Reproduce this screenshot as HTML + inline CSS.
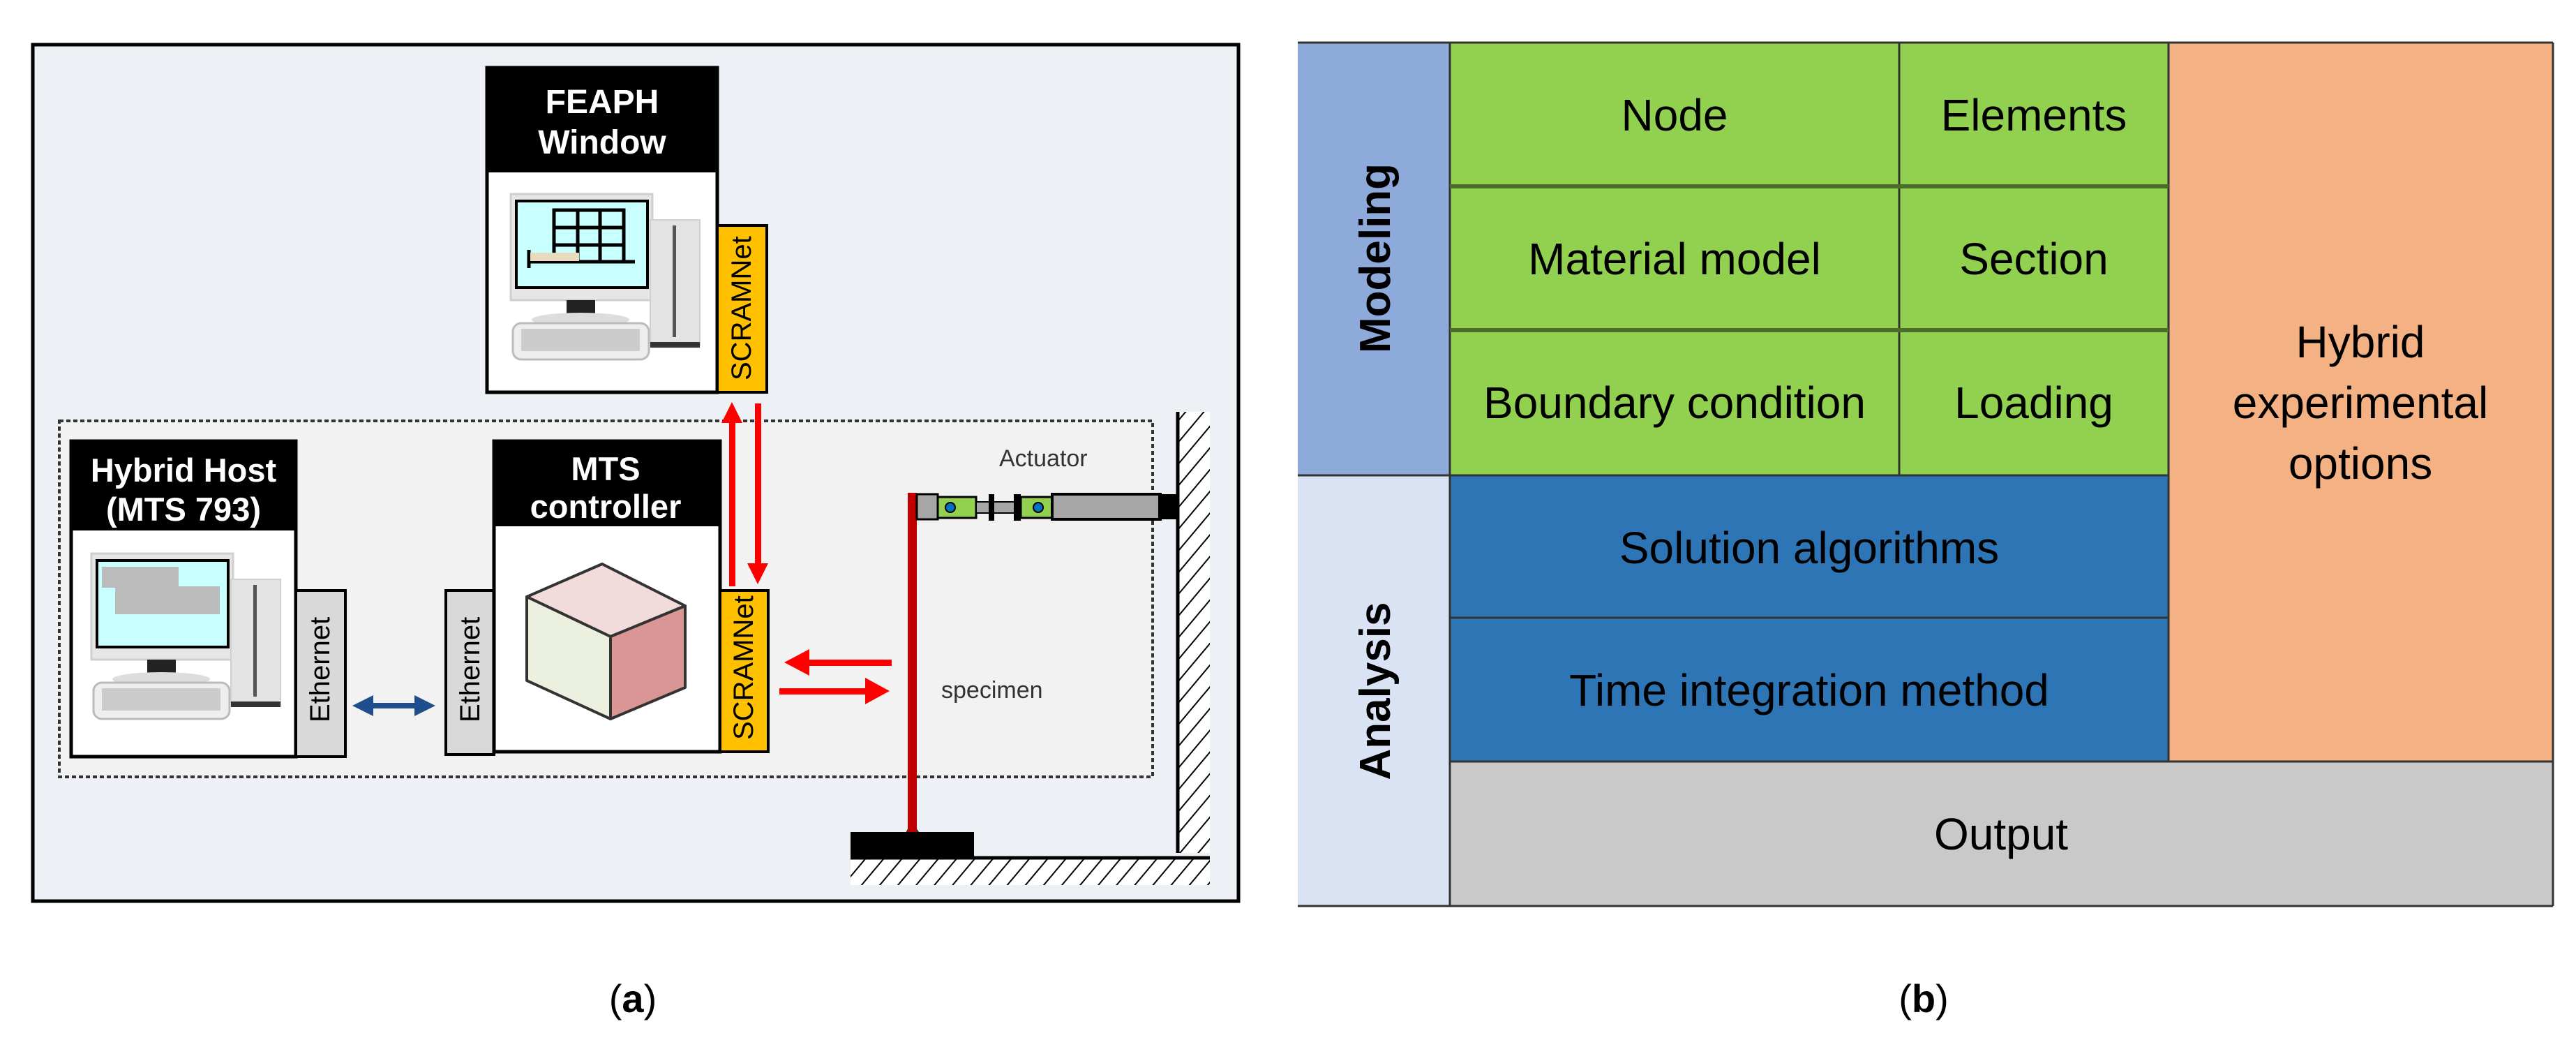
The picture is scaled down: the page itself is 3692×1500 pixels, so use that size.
<!DOCTYPE html>
<html><head><meta charset="utf-8"><style>
html,body{margin:0;padding:0;background:#fff;}
svg{display:block;}
text{font-family:"Liberation Sans",sans-serif;}
</style></head><body>
<svg width="3692" height="1500" viewBox="0 0 3692 1500" xmlns="http://www.w3.org/2000/svg">
<defs>
<pattern id="hatch" width="20" height="20" patternUnits="userSpaceOnUse" patternTransform="rotate(40)">
<rect width="20" height="20" fill="#fff"/><line x1="0" y1="0" x2="0" y2="20" stroke="#000" stroke-width="4"/>
</pattern>
<g id="pc">
<rect x="0" y="0" width="203" height="152" fill="#e6e6e6" stroke="#cfcfcf" stroke-width="3"/>
<rect x="8" y="10" width="188" height="124" fill="#c8ffff" stroke="#000" stroke-width="4"/>
<rect x="80" y="152" width="41" height="25" fill="#222"/>
<ellipse cx="100" cy="180" rx="70" ry="10" fill="#ddd"/>
<rect x="3" y="185" width="195" height="52" rx="12" fill="#eee" stroke="#bbb" stroke-width="3"/>
<rect x="15" y="193" width="170" height="32" fill="#ccc"/>
<rect x="200" y="37" width="71" height="180" fill="#e3e3e3" stroke="#d0d0d0" stroke-width="2"/>
<rect x="232" y="45" width="5" height="160" fill="#555"/>
<rect x="200" y="212" width="71" height="8" fill="#333"/>
</g>
</defs>

<!-- panel a -->
<rect x="47" y="64" width="1728" height="1227" fill="#edf0f5" stroke="#000" stroke-width="5"/>
<rect x="85" y="603" width="1567" height="510" fill="#f2f2f2" stroke="#333" stroke-width="4" stroke-dasharray="6,4"/>

<!-- FEAPH -->
<rect x="698" y="97" width="330" height="465" fill="#fff" stroke="#000" stroke-width="5"/>
<rect x="698" y="97" width="330" height="150" fill="#000"/>
<text x="863" y="162" font-size="48" font-weight="bold" fill="#fff" text-anchor="middle">FEAPH</text>
<text x="863" y="220" font-size="48" font-weight="bold" fill="#fff" text-anchor="middle">Window</text>
<use href="#pc" x="732" y="278"/>
<g stroke="#000" stroke-width="5" fill="none">
<rect x="794" y="301" width="100" height="74"/>
<line x1="828" y1="301" x2="828" y2="375"/><line x1="860" y1="301" x2="860" y2="375"/>
<line x1="794" y1="326" x2="894" y2="326"/><line x1="794" y1="351" x2="894" y2="351"/>
<line x1="756" y1="375" x2="910" y2="375"/><line x1="758" y1="358" x2="758" y2="384"/>
</g>
<rect x="760" y="362" width="70" height="12" fill="#e8dcc0"/>
<rect x="1028" y="323" width="71" height="239" fill="#ffc000" stroke="#000" stroke-width="4"/>
<text transform="translate(1076,545) rotate(-90)" font-size="40" fill="#000">SCRAMNet</text>

<!-- Hybrid host -->
<rect x="102" y="632" width="322" height="452" fill="#fff" stroke="#000" stroke-width="5"/>
<rect x="102" y="632" width="322" height="128" fill="#000"/>
<text x="263" y="690" font-size="47" font-weight="bold" fill="#fff" text-anchor="middle">Hybrid Host</text>
<text x="263" y="746" font-size="47" font-weight="bold" fill="#fff" text-anchor="middle">(MTS 793)</text>
<use href="#pc" x="131" y="793"/>
<rect x="146" y="812" width="110" height="30" fill="#bbb"/>
<rect x="165" y="840" width="150" height="40" fill="#bbb"/>
<rect x="424" y="846" width="71" height="238" fill="#d9d9d9" stroke="#000" stroke-width="4"/>
<text transform="translate(472,1035) rotate(-90)" font-size="40" fill="#000">Ethernet</text>

<!-- MTS controller -->
<rect x="639" y="846" width="69" height="235" fill="#d9d9d9" stroke="#000" stroke-width="4"/>
<text transform="translate(687,1035) rotate(-90)" font-size="40" fill="#000">Ethernet</text>
<rect x="708" y="632" width="324" height="445" fill="#fff" stroke="#000" stroke-width="5"/>
<rect x="708" y="632" width="324" height="122" fill="#000"/>
<text x="868" y="688" font-size="47" font-weight="bold" fill="#fff" text-anchor="middle">MTS</text>
<text x="868" y="742" font-size="47" font-weight="bold" fill="#fff" text-anchor="middle">controller</text>
<g stroke="#333" stroke-width="4" stroke-linejoin="round">
<polygon points="863,808 982,868 875,912 755,855" fill="#f2dcdb"/>
<polygon points="755,855 875,912 875,1030 755,975" fill="#ebf1de"/>
<polygon points="875,912 982,868 982,985 875,1030" fill="#da9694"/>
</g>
<rect x="1032" y="846" width="69" height="231" fill="#ffc000" stroke="#000" stroke-width="4"/>
<text transform="translate(1079,1060) rotate(-90)" font-size="40" fill="#000">SCRAMNet</text>

<!-- arrows -->
<g fill="#ff0000" stroke="none">
<rect x="1045" y="600" width="9" height="240"/>
<polygon points="1049,576 1034,606 1064,606"/>
<rect x="1082" y="578" width="9" height="240"/>
<polygon points="1086,837 1071,807 1101,807"/>
<rect x="1150" y="945" width="128" height="9"/>
<polygon points="1124,949 1160,930 1160,968"/>
<rect x="1117" y="986" width="130" height="9"/>
<polygon points="1275,990 1240,971 1240,1009"/>
</g>
<g fill="#1f4e8c">
<rect x="530" y="1007" width="70" height="8"/>
<polygon points="505,1011 535,996 535,1026"/>
<polygon points="624,1011 594,996 594,1026"/>
</g>

<!-- specimen / actuator -->
<text x="1432" y="668" font-size="34" fill="#333">Actuator</text>
<text x="1349" y="1000" font-size="34" fill="#333">specimen</text>
<polygon points="1307,1180 1280,1228 1340,1228" fill="none" stroke="#333" stroke-width="3"/>
<rect x="1301" y="706" width="13" height="490" fill="#c00000"/>
<rect x="1314" y="708" width="30" height="36" fill="#a6a6a6" stroke="#000" stroke-width="3"/>
<rect x="1344" y="712" width="55" height="30" fill="#92d050" stroke="#000" stroke-width="3"/>
<circle cx="1362" cy="727" r="7" fill="#0070c0" stroke="#000" stroke-width="2"/>
<rect x="1399" y="719" width="80" height="16" fill="#a6a6a6" stroke="#000" stroke-width="2"/>
<rect x="1417" y="708" width="8" height="38" fill="#000"/>
<rect x="1453" y="708" width="10" height="38" fill="#000"/>
<rect x="1463" y="712" width="45" height="30" fill="#92d050" stroke="#000" stroke-width="3"/>
<circle cx="1488" cy="727" r="7" fill="#0070c0" stroke="#000" stroke-width="2"/>
<rect x="1508" y="708" width="155" height="36" fill="#a6a6a6" stroke="#000" stroke-width="4"/>
<rect x="1660" y="708" width="28" height="36" fill="#000"/>
<rect x="1690" y="590" width="44" height="632" fill="url(#hatch)"/>
<line x1="1688" y1="590" x2="1688" y2="1222" stroke="#000" stroke-width="5"/>
<rect x="1219" y="1230" width="515" height="38" fill="url(#hatch)"/>
<line x1="1219" y1="1229" x2="1734" y2="1229" stroke="#000" stroke-width="5"/>
<rect x="1219" y="1192" width="177" height="37" fill="#000"/>

<text x="907" y="1450" font-size="56" font-family="Liberation Serif" text-anchor="middle">(<tspan font-weight="bold">a</tspan>)</text>

<!-- panel b -->
<rect x="1860" y="61" width="218" height="620" fill="#8eaadb"/>
<rect x="1860" y="681" width="218" height="617" fill="#dae3f3"/>
<rect x="2078" y="61" width="1030" height="620" fill="#92d050"/>
<rect x="3108" y="61" width="551" height="1030" fill="#f4b183"/>
<rect x="2078" y="681" width="1030" height="410" fill="#2e75b6"/>
<rect x="2078" y="1091" width="1581" height="207" fill="#c9c9c9"/>
<g stroke="#333" stroke-width="3">
<line x1="1860" y1="61" x2="3659" y2="61"/>
<line x1="1860" y1="1298" x2="3659" y2="1298"/>
<line x1="3659" y1="61" x2="3659" y2="1298"/>
<line x1="2078" y1="61" x2="2078" y2="1298"/>
<line x1="2722" y1="61" x2="2722" y2="681"/>
<line x1="3108" y1="61" x2="3108" y2="1091"/>
<line x1="1860" y1="681" x2="3108" y2="681"/>
<line x1="2078" y1="885" x2="3108" y2="885"/>
<line x1="2078" y1="1091" x2="3659" y2="1091"/>
</g>
<g stroke="#4a6d2a" stroke-width="6">
<line x1="2078" y1="267" x2="3108" y2="267"/>
<line x1="2078" y1="473" x2="3108" y2="473"/>
</g>
<g font-size="64" fill="#000" text-anchor="middle">
<text x="2400" y="187">Node</text>
<text x="2915" y="187">Elements</text>
<text x="2400" y="393">Material model</text>
<text x="2915" y="393">Section</text>
<text x="2400" y="599">Boundary condition</text>
<text x="2915" y="599">Loading</text>
<text x="2593" y="807">Solution algorithms</text>
<text x="2593" y="1011">Time integration method</text>
<text x="2868" y="1217">Output</text>
<text x="3383" y="512">Hybrid</text>
<text x="3383" y="599">experimental</text>
<text x="3383" y="686">options</text>
</g>
<text transform="translate(1992,370) rotate(-90)" font-size="62" font-weight="bold" text-anchor="middle">Modeling</text>
<text transform="translate(1992,990) rotate(-90)" font-size="62" font-weight="bold" text-anchor="middle">Analysis</text>

<text x="2757" y="1450" font-size="56" font-family="Liberation Serif" text-anchor="middle">(<tspan font-weight="bold">b</tspan>)</text>
</svg>
</body></html>
